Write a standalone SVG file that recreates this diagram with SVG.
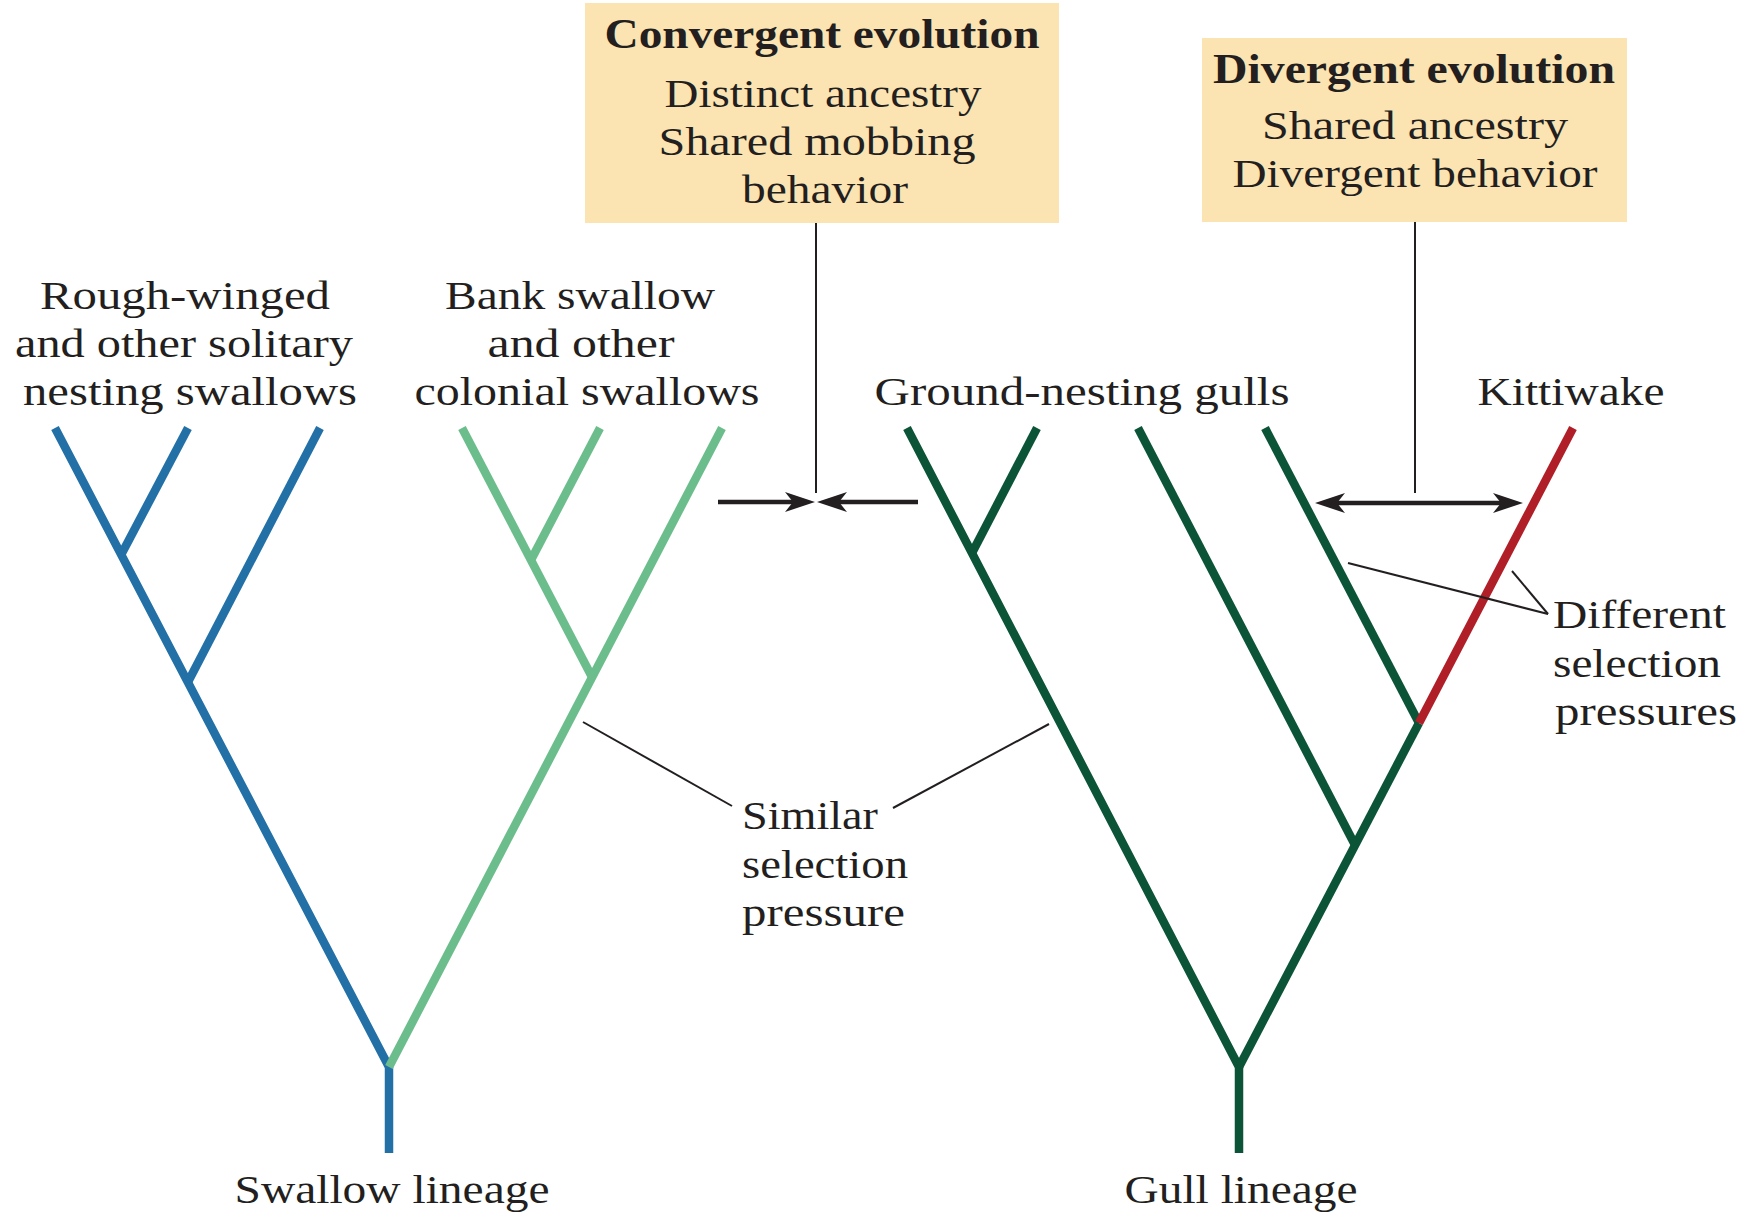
<svg xmlns="http://www.w3.org/2000/svg" width="1752" height="1216" viewBox="0 0 1752 1216">
<style>
text{font-family:"Liberation Serif","Times New Roman",serif;fill:#231f20;}
.lbl{font-size:39px;}
.box{font-size:41px;}
.hd{font-size:42px;font-weight:bold;}
.bx{fill:#fce4b2;stroke:none;}
.br{fill:none;stroke-width:8.5;stroke-linecap:butt;stroke-linejoin:miter;}
.blue{stroke:#2370a7;}
.lg{stroke:#6cbd8c;}
.dg{stroke:#0c5438;}
.red{stroke:#b01e28;}
.ptr{fill:none;stroke:#231f20;stroke-width:2;}
.arr{fill:none;stroke:#231f20;stroke-width:4.5;}
</style>
<defs>
<marker id="ah" markerUnits="userSpaceOnUse" markerWidth="32" markerHeight="24" viewBox="0 0 32 24" refX="10" refY="12" orient="auto-start-reverse">
<path d="M0,2 L30,12 L0,22 L8,12 Z" fill="#231f20"/>
</marker>
</defs>
<rect width="1752" height="1216" fill="#ffffff"/>

<g id="swallow-tree">
<path class="br blue" d="M389,1153 L389,1067 L55,428"/>
<path class="br blue" d="M188,682 L320,428"/>
<path class="br blue" d="M121,555 L188,428"/>
<path class="br lg" d="M389,1067 L722,428"/>
<path class="br lg" d="M592,677 L462,428"/>
<path class="br lg" d="M531,560 L600,428"/>
</g>

<g id="gull-tree">
<path class="br dg" d="M1239,1153 L1239,1067 L907,428"/>
<path class="br dg" d="M972,553 L1037,428"/>
<path class="br dg" d="M1239,1067 L1419,723"/>
<path class="br dg" d="M1355,845 L1138,428"/>
<path class="br dg" d="M1419,723 L1265,428"/>
<path class="br red" d="M1419,723 L1573,428"/>
</g>

<g id="connectors">
<line class="ptr" x1="816" y1="223" x2="816" y2="493"/>
<line class="ptr" x1="1415" y1="222" x2="1415" y2="493"/>
<line class="arr" x1="718" y1="502" x2="795" y2="502" marker-end="url(#ah)"/>
<line class="arr" x1="918" y1="502" x2="837" y2="502" marker-end="url(#ah)"/>
<line class="arr" x1="1335" y1="503" x2="1503" y2="503" marker-start="url(#ah)" marker-end="url(#ah)"/>
<line class="ptr" x1="583" y1="722" x2="732" y2="806"/>
<line class="ptr" x1="1049" y1="724" x2="893" y2="808"/>
<line class="ptr" x1="1348" y1="563" x2="1548" y2="614"/>
<line class="ptr" x1="1512" y1="571" x2="1548" y2="614"/>
</g>

<g id="convergent-box">
<rect class="bx" x="585" y="3" width="474" height="220"/>
<text class="hd" x="822" y="48" text-anchor="middle" textLength="435" lengthAdjust="spacingAndGlyphs">Convergent evolution</text>
<text class="box" x="823" y="107" text-anchor="middle" textLength="317" lengthAdjust="spacingAndGlyphs">Distinct ancestry</text>
<text class="box" x="817" y="155" text-anchor="middle" textLength="317" lengthAdjust="spacingAndGlyphs">Shared mobbing</text>
<text class="box" x="825" y="203" text-anchor="middle" textLength="166" lengthAdjust="spacingAndGlyphs">behavior</text>
</g>

<g id="divergent-box">
<rect class="bx" x="1202" y="38" width="425" height="184"/>
<text class="hd" x="1414" y="83" text-anchor="middle" textLength="402" lengthAdjust="spacingAndGlyphs">Divergent evolution</text>
<text class="box" x="1415" y="139" text-anchor="middle" textLength="306" lengthAdjust="spacingAndGlyphs">Shared ancestry</text>
<text class="box" x="1415" y="187" text-anchor="middle" textLength="365" lengthAdjust="spacingAndGlyphs">Divergent behavior</text>
</g>

<g id="solitary-label">
<text class="lbl" x="185" y="309" text-anchor="middle" textLength="290" lengthAdjust="spacingAndGlyphs">Rough-winged</text>
<text class="lbl" x="184" y="357" text-anchor="middle" textLength="338" lengthAdjust="spacingAndGlyphs">and other solitary</text>
<text class="lbl" x="190" y="405" text-anchor="middle" textLength="334" lengthAdjust="spacingAndGlyphs">nesting swallows</text>
</g>

<g id="colonial-label">
<text class="lbl" x="580" y="309" text-anchor="middle" textLength="270" lengthAdjust="spacingAndGlyphs">Bank swallow</text>
<text class="lbl" x="581" y="357" text-anchor="middle" textLength="187" lengthAdjust="spacingAndGlyphs">and other</text>
<text class="lbl" x="587" y="405" text-anchor="middle" textLength="345" lengthAdjust="spacingAndGlyphs">colonial swallows</text>
</g>

<g id="ground-gulls-label">
<text class="lbl" x="1082" y="405" text-anchor="middle" textLength="415" lengthAdjust="spacingAndGlyphs">Ground-nesting gulls</text>
</g>

<g id="kittiwake-label">
<text class="lbl" x="1571" y="405" text-anchor="middle" textLength="187" lengthAdjust="spacingAndGlyphs">Kittiwake</text>
</g>

<g id="similar-label">
<text class="lbl" x="742" y="829" textLength="136" lengthAdjust="spacingAndGlyphs">Similar</text>
<text class="lbl" x="742" y="878" textLength="166" lengthAdjust="spacingAndGlyphs">selection</text>
<text class="lbl" x="742" y="926" textLength="163" lengthAdjust="spacingAndGlyphs">pressure</text>
</g>

<g id="different-label">
<text class="lbl" x="1553" y="628" textLength="173" lengthAdjust="spacingAndGlyphs">Different</text>
<text class="lbl" x="1553" y="677" textLength="168" lengthAdjust="spacingAndGlyphs">selection</text>
<text class="lbl" x="1555" y="725" textLength="182" lengthAdjust="spacingAndGlyphs">pressures</text>
</g>

<g id="swallow-lineage-label">
<text class="lbl" x="392" y="1203" text-anchor="middle" textLength="315" lengthAdjust="spacingAndGlyphs">Swallow lineage</text>
</g>

<g id="gull-lineage-label">
<text class="lbl" x="1241" y="1203" text-anchor="middle" textLength="233" lengthAdjust="spacingAndGlyphs">Gull lineage</text>
</g>
</svg>
